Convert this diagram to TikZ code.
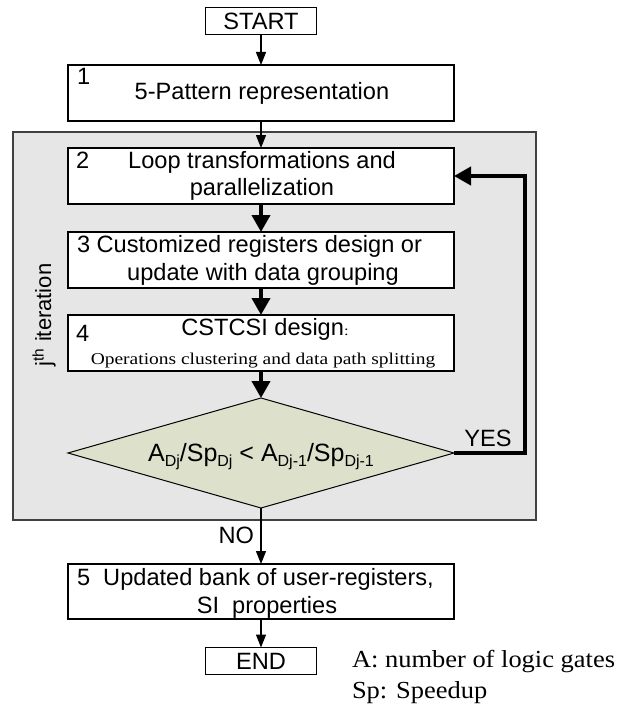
\documentclass[tikz,border=0pt]{standalone}
\usepackage{fontspec}
\setmainfont{Liberation Sans}
\newfontfamily\tms[FakeStretch=1.18]{Liberation Serif}
\newfontfamily\tmsl[FakeStretch=1.08]{Liberation Serif}
\usetikzlibrary{arrows.meta,shapes.geometric}
\newcommand{\fs}[1]{\fontsize{#1}{#1}\selectfont}
\newcommand{\dsub}[1]{\raisebox{-0.22em}{\fs{16}#1}}
\definecolor{diafill}{RGB}{221,225,203}
\definecolor{regfill}{RGB}{230,230,230}
\begin{document}
\begin{tikzpicture}[x=1pt,y=-1pt,
  box/.style={draw=black, line width=1.2pt, fill=white, inner sep=0, outer sep=0, minimum width=386pt, minimum height=56pt},
  termbox/.style={draw=black, line width=1.2pt, fill=white, minimum width=111pt, minimum height=27pt, inner sep=0, outer sep=0},
  txt/.style={inner sep=0, outer sep=0, anchor=base, font=\fs{23.6}},
  thinarrow/.style={line width=1.2pt, -{Triangle[length=13pt,width=10pt]}},
  thickarrow/.style={line width=4pt, -{Triangle[length=17pt,width=18pt]}},
]
\useasboundingbox (0,0) rectangle (623,706);
% iteration region
\node[draw=black!75, line width=1.3pt, fill=regfill, minimum width=523pt, minimum height=388pt, inner sep=0, outer sep=0] (grp) at (274.5,326) {};
% START
\node[termbox] (start) at (261,21) {};
\node[txt] (tstart) at (261,29.5) {START};
% box 1
\node[box] (b1) at (261,93) {};
\node[txt, anchor=base west] (n1) at (77,85) {1};
\node[txt] (t1) at (262,100) {5-Pattern representation};
% box 2
\node[box] (b2) at (261,176) {};
\node[txt, anchor=base west] (n2) at (76,168) {2};
\node[txt] (t2a) at (262,168) {Loop transformations and};
\node[txt] (t2b) at (262,195) {parallelization};
% box 3
\node[box] (b3) at (261,260) {};
\node[txt, anchor=base west] (t3a) at (77,252) {3 Customized registers design or};
\node[txt] (t3b) at (263,280) {update with data grouping};
% box 4
\node[box] (b4) at (261,343) {};
\node[txt, anchor=base west] (n4) at (76,341) {4};
\node[txt] (t4a) at (265,335) {CSTCSI design{\tms\fs{14}:}};
\node[txt, font=\tms\fs{16.5}] (t4b) at (263,364) {Operations clustering and data path splitting};
% decision
\node[diamond, draw=black, line width=1pt, fill=diafill, minimum width=386pt, minimum height=110pt, inner sep=0, outer sep=0] (dia) at (261,453) {};
\node[txt, font=\fs{25}] (tdia) at (261,461) {A\dsub{Dj}/Sp\dsub{Dj} < A\dsub{Dj-1}/Sp\dsub{Dj-1}};
% box 5
\node[box, minimum height=55pt] (b5) at (261,591.5) {};
\node[txt, anchor=base west] (t5a) at (77,585) {5\ \ Updated bank of user-registers,};
\node[txt] (t5b) at (267,613) {SI\ \ properties};
% END
\node[termbox] (end) at (261,661) {};
\node[txt] (tend) at (261,669.5) {END};
% legend
\node[txt, anchor=base west, font=\tmsl\fs{24.5}] (lg1) at (352,667) {A: number of logic gates};
\node[txt, anchor=base west, font=\tmsl\fs{24.5}] (lg2) at (352,698) {Sp: Speedup};
% side label
\node[txt, anchor=center, rotate=90, font=\fs{22}] (iter) at (44,315) {j\textsuperscript{th} iteration};
% labels
\node[txt] (yes) at (488,446) {YES};
\node[txt, anchor=base east] (no) at (254,543) {NO};
% connectors
\draw[thinarrow] (start) -- (b1);
\draw[thinarrow] (b1) -- (b2);
\draw[thickarrow] (b2) -- (b3);
\draw[thickarrow] (b3) -- (b4);
\draw[thickarrow] (b4) -- (dia);
\draw[thinarrow] (dia) -- (b5);
\draw[thinarrow] (b5) -- (end);
\coordinate (lp) at (525,453);
\draw[thickarrow] (dia.east) -- (lp) |- (b2.east);
\end{tikzpicture}
\end{document}
